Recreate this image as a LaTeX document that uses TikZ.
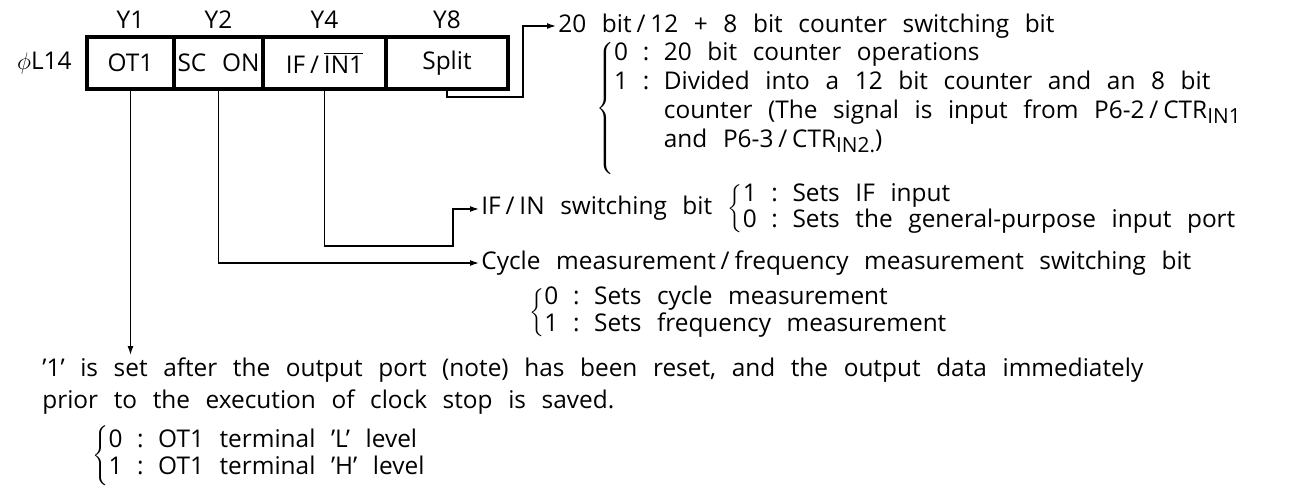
\documentclass[tikz,border=0pt]{standalone}
\usepackage{fontspec}
\setmainfont{Open Sans}
\usetikzlibrary{positioning,arrows.meta}
\newcommand\lowsub[1]{\raisebox{-0.35ex}{\fontsize{10.4}{11}\selectfont #1}}
\newcommand\slsh{\hspace{0.2em}/\hspace{0.2em}}
\newcommand\diagfont{\fontsize{12.2}{13.2}\selectfont\spaceskip=0.64em plus 0.1em minus 0.05em\relax}
\newcommand\notefont{\fontsize{12.2}{16}\selectfont\spaceskip=0.64em plus 0.1em minus 0.05em\relax}

\begin{document}
\begin{tikzpicture}[x=0.5pt,y=-0.5pt,>={Latex[length=4.5pt,width=3pt]},
    cell/.style={draw,line width=1.7pt,outer sep=0pt,inner sep=0pt,minimum height=26pt,font=\diagfont},
    lbl/.style={inner sep=1pt,font=\diagfont},
    wire/.style={line width=0.65pt}]
    \useasboundingbox (0,0) rectangle (1289,486);
    % register cells
    \node[cell,minimum width=43.5pt] (ot1) at (130.5,63) {OT1};
    \node[cell,minimum width=44.5pt,right=0pt of ot1] (scon) {SC ON};
    \node[cell,minimum width=61.5pt,right=0pt of scon] (ifin) {IF\slsh$\overline{\hbox{IN1}}$};
    \node[cell,minimum width=61pt,right=0pt of ifin] (split) {Split};
    \node[lbl,above=3pt of ot1] (y1) {Y1};
    \node[lbl,above=3pt of scon] (y2) {Y2};
    \node[lbl,above=3pt of ifin] (y4) {Y4};
    \node[lbl,above=3pt of split] (y8) {Y8};
    \node[lbl,left=6.5pt of ot1] (port) {$\phi$L14};
    % descriptions
    \node[lbl,anchor=west] (cnt) at (556,26) {20 bit\slsh 12 + 8 bit counter switching bit};
    \node[lbl,anchor=north west] (cntopt) at (594,38) {\renewcommand\arraystretch{1.1}$\left\{\begin{tabular}{@{}l@{\hspace{.6em}}c@{\hspace{.6em}}l@{}}
        0&:&20 bit counter operations\\
        1&:&Divided into a 12 bit counter and an 8 bit\\
        &&counter (The signal is input from P6-2\slsh CTR\lowsub{IN1}\\
        &&and P6-3\slsh CTR\lowsub{IN2.})\rule[-14pt]{0pt}{0pt}\end{tabular}\right.$};
    \node[lbl,anchor=west] (ifsw) at (479,209) {IF\slsh IN switching bit \renewcommand\arraystretch{0.99}$\left\{\begin{tabular}{@{}l@{\hspace{.6em}}c@{\hspace{.6em}}l@{}}
        1&:&Sets IF input\\
        0&:&Sets the general-purpose input port\end{tabular}\right.$};
    \node[lbl,anchor=west] (cyc) at (479,263) {Cycle measurement\slsh frequency measurement switching bit};
    \node[lbl,anchor=north west] (cycopt) at (527,284) {\renewcommand\arraystretch{0.98}$\left\{\begin{tabular}{@{}l@{\hspace{.6em}}c@{\hspace{.6em}}l@{}}
        0&:&Sets cycle measurement\\
        1&:&Sets frequency measurement\end{tabular}\right.$};
    \node[lbl,anchor=north west,align=left,font=\notefont] (note) at (40,355) {’1’ is set after the output port (note) has been reset, and the output data immediately\\prior to the execution of clock stop is saved.};
    \node[lbl,anchor=north west] (otopt) at (90,423) {\renewcommand\arraystretch{1.06}$\left\{\begin{tabular}{@{}l@{\hspace{.6em}}c@{\hspace{.6em}}l@{}}
        0&:&OT1 terminal ’L’ level\\
        1&:&OT1 terminal ’H’ level\end{tabular}\right.$};
    % wires
    \coordinate (splbend) at (523,97);
    \coordinate (ifbend) at (453,246);
    \draw[wire,->] (split.south) |- (splbend) |- (cnt.west);
    \draw[wire,->] (ifin.south) |- (ifbend) |- (ifsw.west);
    \draw[wire,->] (scon.south) |- (cyc.west);
    \draw[wire,->] (ot1.south) -- (ot1.south |- note.north);
\end{tikzpicture}
\end{document}
